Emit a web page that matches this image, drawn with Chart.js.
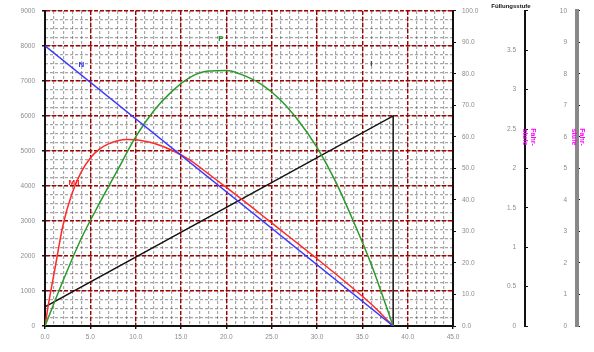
<!DOCTYPE html>
<html>
<head>
<meta charset="utf-8">
<script src="https://cdn.jsdelivr.net/npm/chart.js@4"></script>
<style>
  html, body { margin: 0; padding: 0; background: #fff; }
  canvas { display: block; }
</style>
</head>
<body>
<canvas id="chart" width="594" height="352"></canvas>
<script>
// ---- Data ----
const nSpeed = [0, 38.4];
const nValues = [8000, 0];

const pSpeed = [0, 2, 4, 6, 8, 10, 12, 14, 16, 18, 20, 22, 24, 26, 28, 30, 32, 34, 36, 38.4];
const pValues = [0, 1300, 2500, 3500, 4450, 5400, 6150, 6700, 7100, 7280, 7300, 7150, 6880, 6450, 5850, 5100, 4150, 3000, 1750, 0];

const mSpeed = [0, 0.5, 1, 2, 3, 4, 5, 6, 7, 8, 9, 10, 11, 12, 14, 16, 18, 20, 22, 24, 26, 28, 30, 32, 34, 36, 38.4];
const mValues = [0, 800, 1500, 2900, 3800, 4400, 4800, 5050, 5200, 5290, 5330, 5320, 5280, 5220, 5020, 4740, 4350, 3960, 3560, 3150, 2740, 2330, 1920, 1500, 1070, 620, 0];

const iSpeed = [0, 38.4, 38.4];
const iValues = [550, 6000, 0];

const xTicks = { min: 0, max: 45, step: 5 };
const leftTicks = { min: 0, max: 9000, step: 1000 };
const rightTicks = { min: 0, max: 100, step: 10 };
const stageTicks = { min: 0, max: 4, step: 0.5 };
const notchTicks = { min: 0, max: 10, step: 1 };

const curveNames = ['N', 'P', 'I', 'M/I'];
const curveNameX = [4, 19.4, 36, 3.2];
const curveNameY = [7450, 8200, 7500, 4100];

const pts = (xs, ys) => xs.map((x, i) => ({ x: x, y: ys[i] }));

// ---- Small style helpers ----
const tickFont = { family: 'Liberation Sans', size: 6.5 };
const tickColor = '#8c8c8c';
const red = '#a30000';

// ---- Plugin: free texts (title, side labels, curve names) ----
const textPlugin = {
    id: 'texts',
    afterDraw(chart) {
        const ctx = chart.ctx;
        const s = chart.scales;
        ctx.save();

        // curve names
        const colors = ['#3333ff', '#1f8f1f', '#444', '#ff2020'];
        ctx.font = 'bold 8px "Liberation Sans"';
        ctx.textAlign = 'center';
        ctx.textBaseline = 'middle';
        curveNames.forEach((n, i) => {
            ctx.fillStyle = colors[i];
            ctx.fillText(n, s.x.getPixelForValue(curveNameX[i]), s.y.getPixelForValue(curveNameY[i]));
        });

        // title above stage axis
        ctx.fillStyle = '#111';
        ctx.font = 'bold 6px "Liberation Sans"';
        ctx.fillText('Füllungsstufe', s.yStage.left - 14, 6);

        // magenta rotated labels
        ctx.fillStyle = '#ff00ff';
        ctx.font = 'bold 7px "Liberation Sans"';
        [[s.yStage.left + 4, ['Fahr-', 'stufe']], [s.yNotch.left + 1, ['Fahr-', 'stufe']]].forEach(([x, lines]) => {
            ctx.save();
            ctx.translate(x, 137);
            ctx.rotate(Math.PI / 2);
            ctx.fillText(lines[0], 0, -4);
            ctx.fillText(lines[1], 0, 4);
            ctx.restore();
        });
        ctx.restore();
    }
};

new Chart(document.getElementById('chart'), {
    type: 'line',
    data: {
        datasets: [
            { label: 'N', data: pts(nSpeed, nValues), borderColor: '#3a3aff', xAxisID: 'x', yAxisID: 'y', tension: 0 },
            { label: 'P', data: pts(pSpeed, pValues), borderColor: '#2a9a2a', xAxisID: 'x', yAxisID: 'y', cubicInterpolationMode: 'monotone' },
            { label: 'M', data: pts(mSpeed, mValues), borderColor: '#ff2a2a', xAxisID: 'x', yAxisID: 'y', cubicInterpolationMode: 'monotone' },
            { label: 'I', data: pts(iSpeed, iValues), borderColor: '#111', xAxisID: 'x', yAxisID: 'y', tension: 0 }
        ]
    },
    options: {
        responsive: false,
        animation: false,
        layout: { padding: { top: 10, left: 0, right: 0, bottom: 0 } },
        elements: { point: { radius: 0 }, line: { borderWidth: 1.5, fill: false } },
        plugins: { legend: { display: false }, tooltip: { enabled: false } },
        scales: {
            xMinor: {
                type: 'linear', axis: 'x', position: 'bottom', min: 0, max: 45, weight: 1, z: -2,
                ticks: { display: false, stepSize: 1, autoSkip: false },
                grid: { color: 'rgba(60,60,60,0.45)', lineWidth: 1.2, drawTicks: false },
                border: { display: false, dash: [3, 2] },
                afterFit: s => { s.height = 0; }
            },
            yMinor: {
                type: 'linear', axis: 'y', position: 'left', min: 0, max: 9000, weight: 1, z: -2,
                ticks: { display: false, stepSize: 250, autoSkip: false },
                grid: { color: 'rgba(60,60,60,0.45)', lineWidth: 1.2, drawTicks: false },
                border: { display: false, dash: [3, 2] },
                afterFit: s => { s.width = 0; }
            },
            x: {
                type: 'linear', position: 'bottom', min: xTicks.min, max: xTicks.max, weight: 0, z: -1,
                ticks: { stepSize: xTicks.step, autoSkip: false, font: tickFont, color: tickColor, padding: 4,
                         callback: v => v.toFixed(1) },
                grid: { color: red, lineWidth: 1.4, tickLength: 3, tickColor: '#111' },
                border: { color: '#111', width: 2, dash: [4, 2] },
                afterFit: s => { s.height = 26; }
            },
            y: {
                type: 'linear', position: 'left', min: leftTicks.min, max: leftTicks.max, weight: 0, z: -1,
                ticks: { stepSize: leftTicks.step, autoSkip: false, font: tickFont, color: tickColor, padding: 7,
                         callback: v => String(v) },
                grid: { color: red, lineWidth: 1.4, tickLength: 3, tickColor: '#111' },
                border: { color: '#111', width: 2, dash: [4, 2] },
                afterFit: s => { s.width = 45; }
            },
            yRight: {
                type: 'linear', position: 'right', min: rightTicks.min, max: rightTicks.max, weight: 0,
                ticks: { stepSize: rightTicks.step, autoSkip: false, font: tickFont, color: tickColor, padding: 6,
                         callback: v => v.toFixed(1) },
                grid: { drawOnChartArea: false, tickLength: 3, tickColor: '#111' },
                border: { color: '#111', width: 2 },
                afterFit: s => { s.width = 72; }
            },
            yStage: {
                type: 'linear', position: 'right', min: stageTicks.min, max: stageTicks.max, weight: 1,
                ticks: { stepSize: stageTicks.step, autoSkip: false, font: tickFont, color: tickColor,
                         mirror: true, padding: -9,
                         callback: v => (v >= stageTicks.max ? '' : String(v)) },
                grid: { drawOnChartArea: false, tickLength: 3, tickColor: '#111' },
                border: { color: '#111', width: 2 },
                afterFit: s => { s.width = 52; }
            },
            yNotch: {
                type: 'linear', position: 'right', min: notchTicks.min, max: notchTicks.max, weight: 2,
                ticks: { stepSize: notchTicks.step, autoSkip: false, font: tickFont, color: tickColor,
                         mirror: true, padding: -10,
                         callback: v => String(v) },
                grid: { drawOnChartArea: false, tickLength: 3, tickColor: '#111' },
                border: { color: '#888', width: 4 },
                afterFit: s => { s.width = 17; }
            }
        }
    },
    plugins: [textPlugin]
});
</script>
</body>
</html>
